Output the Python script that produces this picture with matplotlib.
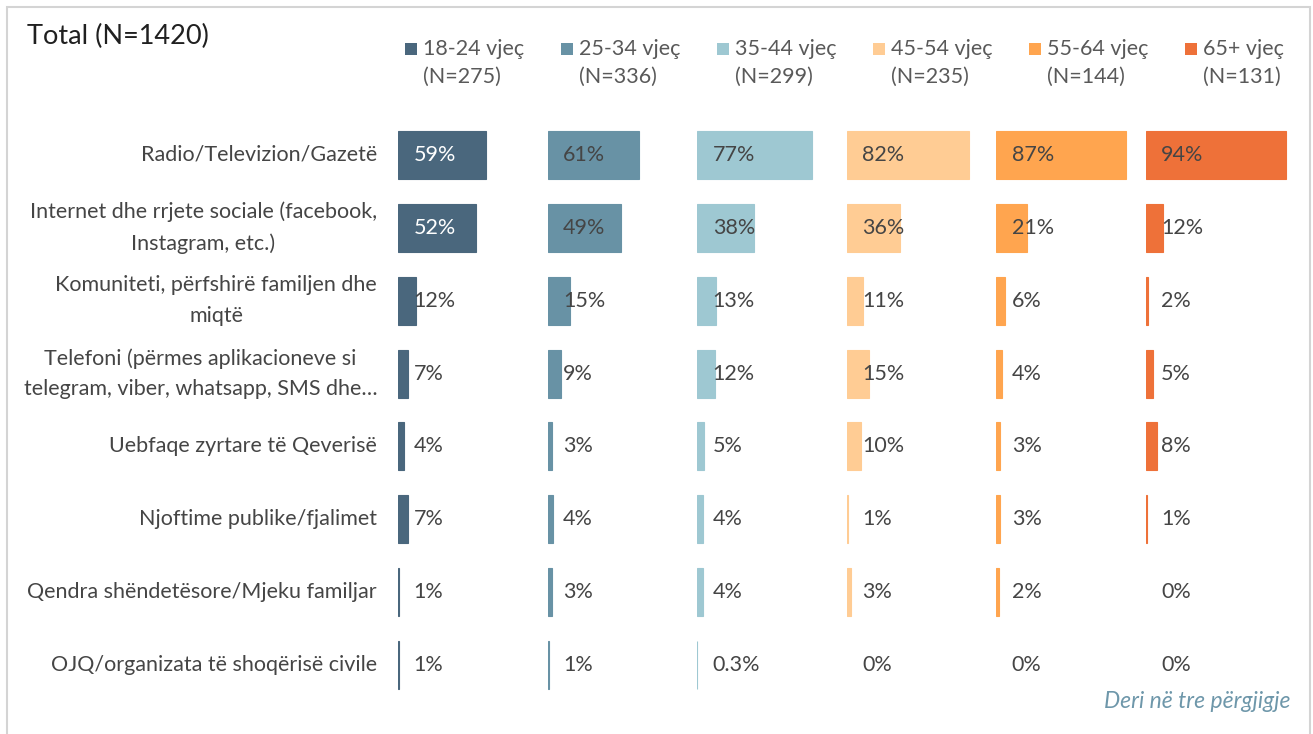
import matplotlib
matplotlib.use("Agg")
import matplotlib.pyplot as plt
from matplotlib.patches import Rectangle

categories = [
    "Radio/Televizion/Gazetë",
    "Internet dhe rrjete sociale (facebook,\nInstagram, etc.)",
    "Komuniteti, përfshirë familjen dhe\nmiqtë",
    "Telefoni (përmes aplikacioneve si\ntelegram, viber, whatsapp, SMS dhe…",
    "Uebfaqe zyrtare të Qeverisë",
    "Njoftime publike/fjalimet",
    "Qendra shëndetësore/Mjeku familjar",
    "OJQ/organizata të shoqërisë civile",
]
groups = ["18-24 vjeç\n(N=275)", "25-34 vjeç\n(N=336)", "35-44 vjeç\n(N=299)",
          "45-54 vjeç\n(N=235)", "55-64 vjeç\n(N=144)", "65+ vjeç\n(N=131)"]
v_18_24 = [59, 52, 12, 7, 4, 7, 1, 1]
v_25_34 = [61, 49, 15, 9, 3, 4, 3, 1]
v_35_44 = [77, 38, 13, 12, 5, 4, 4, 0.3]
v_45_54 = [82, 36, 11, 15, 10, 1, 3, 0]
v_55_64 = [87, 21, 6, 4, 3, 3, 2, 0]
v_65p = [94, 12, 2, 5, 8, 1, 0, 0]
series = [v_18_24, v_25_34, v_35_44, v_45_54, v_55_64, v_65p]
colors = ["#4A677D", "#6892A5", "#9EC8D2", "#FFCC94", "#FFA54F", "#EE7139"]
title = "Total (N=1420)"
footnote = "Deri në tre përgjigje"

W, H = 1313, 734
fig = plt.figure(figsize=(W / 100, H / 100), dpi=100)
FONT = "Lato"
plt.rcParams['font.family'] = [FONT, 'DejaVu Sans']
txt = "#454545"
FS = 15.5

# border
fig.patches.append(Rectangle((7 / W, -0.1), (1310 - 7) / W, (H - 7) / H + 0.1,
                             transform=fig.transFigure, fill=False,
                             edgecolor="#D4D4D4", linewidth=1.5))

fig.text(27 / W, 1 - 36 / H, title, fontsize=19.5, color="#202020", va="center",
         ha="left")

panel_left = 398
panel_w = 149.5
y_top, y_bot = 118.5, 701.5
n = len(categories)

def fmt(v):
    return f"{v:g}%"

for gi, (vals, col) in enumerate(zip(series, colors)):
    ax = fig.add_axes([(panel_left + gi * panel_w) / W, 1 - y_bot / H,
                       panel_w / W, (y_bot - y_top) / H])
    ys = list(range(n))
    edges = [col if v > 0 else "none" for v in vals]
    ax.barh(ys, vals, height=0.66, color=col, edgecolor=edges, linewidth=0.8)
    ax.set_xlim(0, 100)
    ax.set_ylim(n - 0.5, -0.5)
    ax.axis("off")
    for y, v in zip(ys, vals):
        c = "white" if (gi == 0 and v > 40) else txt
        ax.text(10.5, y, fmt(v), ha="left", va="center", fontsize=FS,
                color=c)
    if gi == 0:
        for y, cat in zip(ys, categories):
            ax.text(-14, y, cat, ha="right", va="center", fontsize=FS,
                    color=txt, multialignment="center", linespacing=1.65,
                    transform=ax.transData, clip_on=False)

# legend
for gi, (g, col) in enumerate(zip(groups, colors)):
    x0 = 405 + gi * 156
    fig.patches.append(Rectangle((x0 / W, 1 - 55 / H), 12 / W, 12 / H,
                                 transform=fig.transFigure, facecolor=col,
                                 edgecolor="none"))
    l1, l2 = g.split("\n")
    fig.text((x0 + 18) / W, 1 - 49 / H, l1, fontsize=FS, color="#595959",
             va="center", ha="left")
    fig.text((x0 + 18) / W, 1 - 77 / H, l2, fontsize=FS, color="#595959",
             va="center", ha="left")

fig.text(1290 / W, 1 - 702 / H, footnote, fontsize=16.5, color="#6E97AA",
         style="italic", ha="right", va="center")

fig.savefig("out.png", dpi=100)
